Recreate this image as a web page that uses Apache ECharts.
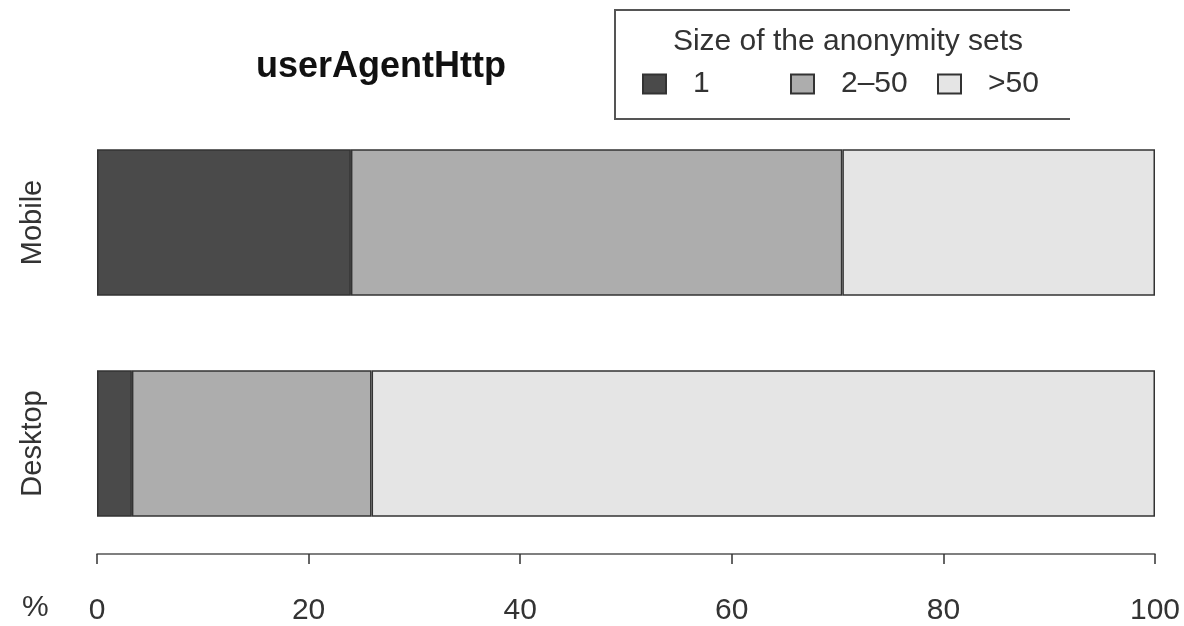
<!DOCTYPE html>
<html>
<head>
<meta charset="utf-8">
<title>userAgentHttp</title>
<script src="https://cdn.jsdelivr.net/npm/echarts@6/dist/echarts.min.js"></script>
<style>
    html, body { margin: 0; padding: 0; background: #fff; }
    #chart { width: 1184px; height: 626px; }
</style>
</head>
<body>
<div id="chart"></div>
<script>
// categories bottom -> top
const devices = ['Desktop', 'Mobile'];
const setSizes = ['1', '2\u201350', '>50'];
// percent of users per anonymity set size
const size1 = [3.3, 24.0];
const size2to50 = [22.65, 46.45];
const sizeOver50 = [74.05, 29.55];
const xTicks = [0, 20, 40, 60, 80, 100];

const fills = ['#4a4a4a', '#adadad', '#e5e5e5'];
const font = '"Liberation Sans", Arial, sans-serif';
// left edge of each legend key, R spaces them evenly
const legendLefts = [642, 790, 937];

const chart = echarts.init(document.getElementById('chart'));

const makeSeries = (name, data, color) => {
    return {
        name: name,
        type: 'bar',
        stack: 'total',
        data: data,
        barCategoryGap: '33.6%',
        itemStyle: {
            color: color,
            borderColor: '#333',
            borderWidth: 1.5
        },
        emphasis: { disabled: true }
    };
};

const makeLegend = (name, left) => {
    return {
        data: [name],
        left: left,
        top: 69,
        padding: 0,
        itemWidth: 23,
        itemHeight: 19,
        icon: 'rect',
        selectedMode: false,
        textStyle: {
            fontFamily: font,
            fontSize: 30,
            color: '#333',
            padding: [0, 0, 0, 22]
        }
    };
};

const option = {
    animation: false,
    backgroundColor: '#fff',
    title: [
        {
            text: 'userAgentHttp',
            left: 376,
            top: 44,
            textAlign: 'center',
            textStyle: { fontFamily: font, fontSize: 36, fontWeight: 'bold', color: '#111' }
        },
        {
            // legend heading
            text: 'Size of the anonymity sets',
            left: 843,
            top: 22,
            textAlign: 'center',
            textStyle: { fontFamily: font, fontSize: 30, fontWeight: 'normal', color: '#333' }
        }
    ],
    legend: setSizes.map((s, i) => makeLegend(s, legendLefts[i])),
    grid: {
        left: 97,
        right: 29,
        top: 112,
        bottom: 71
    },
    xAxis: {
        type: 'value',
        min: 0,
        max: 100,
        interval: 20,
        splitLine: { show: false },
        axisLine: { show: true, lineStyle: { color: '#555', width: 1.5 } },
        axisTick: { show: true, length: 10, lineStyle: { color: '#333', width: 1.5 } },
        axisLabel: {
            margin: 42,
            fontFamily: font,
            fontSize: 30,
            color: '#333',
            formatter: (v) => (xTicks.indexOf(v) >= 0 ? String(v) : '')
        }
    },
    yAxis: {
        type: 'category',
        data: devices,
        axisLine: { show: false },
        axisTick: { show: false },
        axisLabel: {
            rotate: 90,
            margin: 50,
            fontFamily: font,
            fontSize: 29,
            color: '#333'
        }
    },
    graphic: [
        {
            type: 'text',
            left: 22,
            top: 593,
            style: { text: '%', fontFamily: font, fontSize: 30, fill: '#333' }
        },
        {
            // legend frame, open on the right like the original
            type: 'polyline',
            shape: { points: [[1070, 10], [615, 10], [615, 119], [1070, 119]] },
            style: { stroke: '#555', lineWidth: 2, fill: null }
        }
    ],
    series: [
        makeSeries(setSizes[0], size1, fills[0]),
        makeSeries(setSizes[1], size2to50, fills[1]),
        makeSeries(setSizes[2], sizeOver50, fills[2])
    ]
};

chart.setOption(option);
</script>
</body>
</html>
